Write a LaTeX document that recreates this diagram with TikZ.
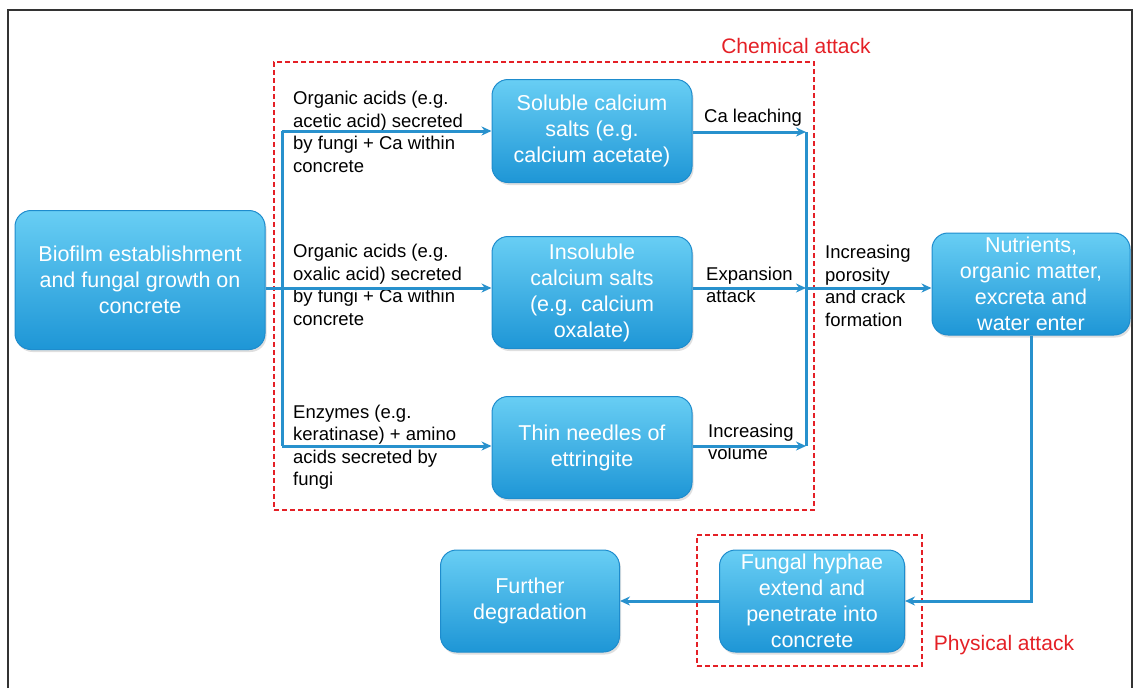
\documentclass[tikz,border=0pt]{standalone}
\usepackage{fontspec}
\setmainfont{Liberation Sans}
\usepackage{xcolor}
\usepackage{tikz}
\usetikzlibrary{positioning,arrows.meta,shadows}

\definecolor{boxtop}{RGB}{104,206,244}
\definecolor{boxbottom}{RGB}{30,150,214}
\definecolor{boxedge}{RGB}{30,140,205}
\definecolor{flowblue}{RGB}{40,145,205}
\definecolor{attackred}{RGB}{228,32,38}

\tikzset{
    box/.style={draw=boxedge, line width=1pt, rounded corners=16pt, top color=boxtop, bottom color=boxbottom,
        text=white, align=center, inner sep=0pt, font=\fontsize{21.5}{26}\selectfont,
        drop shadow={opacity=0.25, shadow xshift=1.5pt, shadow yshift=-2.5pt}},
    note/.style={anchor=west, align=left, inner sep=0pt, font=\fontsize{18.5}{22.5}\selectfont},
    attackbox/.style={draw=attackred, dashed, dash pattern=on 5pt off 3pt, line width=1.2pt},
    attacklabel/.style={text=attackred, inner sep=0pt, font=\fontsize{21}{25}\selectfont},
    line/.style={draw=flowblue, line width=3pt},
    flow/.style={line, -{Stealth[length=10pt,width=9pt]}}
}

\begin{document}
\begin{tikzpicture}[x=1pt,y=-1pt]
    \useasboundingbox (0,0) rectangle (1135,688);
    \draw[black!80, line width=1.5pt] (8,688) -- (8,10) -- (1132,10) -- (1132,688);

    \node (chembox) [attackbox, minimum width=540, minimum height=448] at (544,286) {};
    \node (chemlabel) [attacklabel] at (796,46) {Chemical attack};
    \node (physbox) [attackbox, minimum width=225, minimum height=131] at (809.5,600.5) {};
    \node (physlabel) [attacklabel] at (1004,645) {Physical attack};

    \node (biofilm) [box, minimum width=250, minimum height=139] at (140,280) {Biofilm establishment\\and fungal growth on\\concrete};
    \node (soluble) [box, minimum width=200, minimum height=103] at (592,131) {Soluble calcium\\salts (e.g.\\calcium acetate)};
    \node (insoluble) [box, minimum width=200, minimum height=112, below=53pt of soluble] {Insoluble\\calcium salts\\(e.g. calcium\\oxalate)};
    \node (needles) [box, minimum width=200, minimum height=102, below=47pt of insoluble] {Thin needles of\\ettringite};
    \node (nutrients) [box, minimum width=198, minimum height=102] at (1031,284) {Nutrients,\\organic matter,\\excreta and\\water enter};
    \node (hyphae) [box, minimum width=185, minimum height=102] at (812,601) {Fungal hyphae\\extend and\\penetrate into\\concrete};
    \node (further) [box, minimum width=179, minimum height=102, left=99pt of hyphae] {Further\\degradation};

    \node (acetic) [note] at (293,132) {Organic acids (e.g.\\acetic acid) secreted\\by fungi + Ca within\\concrete};
    \node (oxalic) [note] at (293,285) {Organic acids (e.g.\\oxalic acid) secreted\\by fungi + Ca within\\concrete};
    \node (enzymes) [note] at (293,447) {Enzymes (e.g.\\keratinase) + amino\\acids secreted by\\fungi};
    \node (leaching) [note] at (704,118) {Ca leaching};
    \node (expansion) [note] at (706,285) {Expansion\\attack};
    \node (volume) [note] at (708,442) {Increasing\\volume};
    \node (porosity) [note] at (825,286) {Increasing\\porosity\\and crack\\formation};

    \coordinate (split) at (282,288);
    \coordinate (splittop) at (282,131);
    \coordinate (splitbot) at (282,446);
    \coordinate (merge) at (806,288);
    \coordinate (mergetop) at (806,132);
    \coordinate (mergebot) at (806,446);

    \draw[line] (biofilm.east |- split) -- (split);
    \draw[line] (splittop) -- (splitbot);
    \draw[flow] (splittop) -- (soluble.west |- splittop);
    \draw[flow] (split) -- (insoluble.west |- split);
    \draw[flow] (splitbot) -- (needles.west |- splitbot);
    \draw[line] (mergetop) -- (mergebot);
    \draw[flow] (soluble.east |- mergetop) -- (mergetop);
    \draw[flow] (insoluble.east |- merge) -- (merge);
    \draw[flow] (needles.east |- mergebot) -- (mergebot);
    \draw[flow] (merge) -- (nutrients.west |- merge);
    \draw[flow] (nutrients.south) |- (hyphae.east);
    \draw[flow] (hyphae) -- (further);
\end{tikzpicture}
\end{document}
